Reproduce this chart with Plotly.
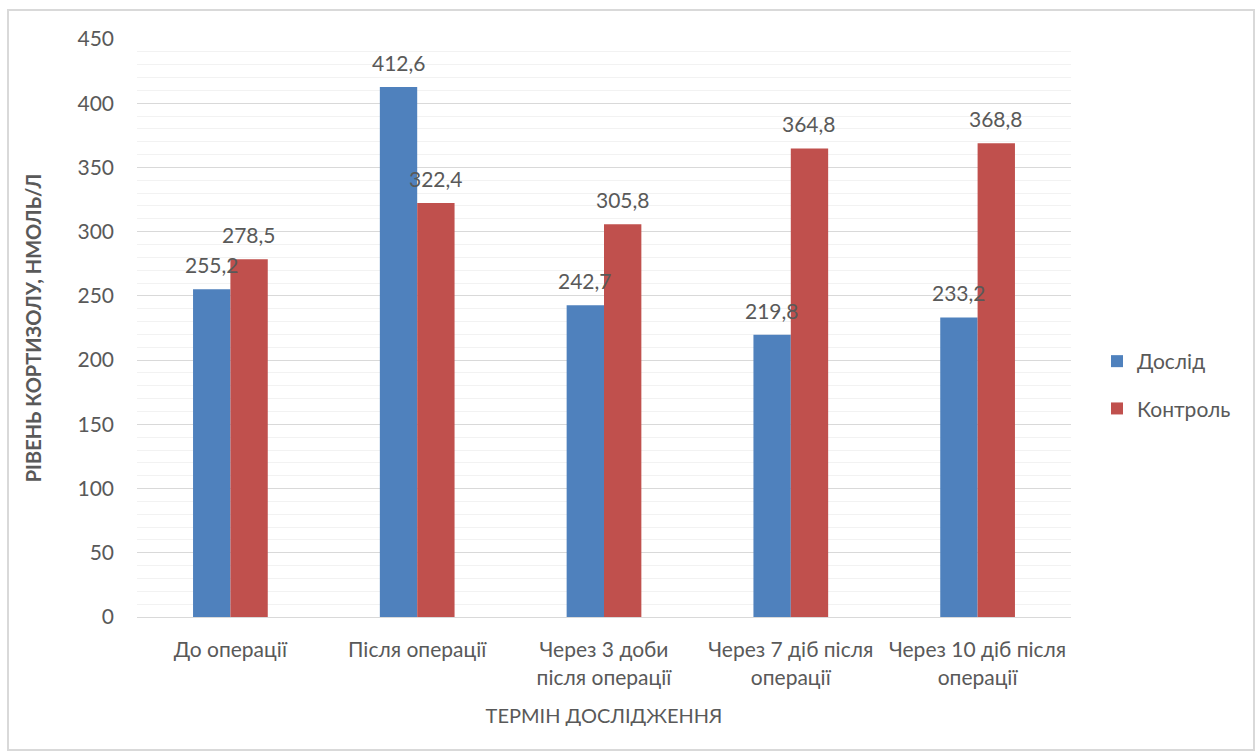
import plotly.graph_objects as go

categories = ["До операції", "Після операції", "Через 3 доби<br>після операції",
              "Через 7 діб після<br>операції", "Через 10 діб після<br>операції"]
doslid = [255.2, 412.6, 242.7, 219.8, 233.2]
kontrol = [278.5, 322.4, 305.8, 364.8, 368.8]
series_names = ["Дослід", "Контроль"]
colors = ["#4F81BD", "#C0504D"]

FONT = "Lato, 'Liberation Sans', sans-serif"
TXT = "#595959"
FS = 21

fig = go.Figure()
for k, (name, vals, col) in enumerate(zip(series_names, [doslid, kontrol], colors)):
    fig.add_trace(go.Bar(x=categories, y=vals, name=name, marker_color=col,
                         marker_line_width=0, legendgroup=f"g{k}"))

L, R, T, B = 137, 188, 39, 139
W, H = 1259, 756
pw, ph = W - L - R, H - T - B

annotations = []
offsets = [-0.1, 0.1]
for i, vals in enumerate([doslid, kontrol]):
    for j, v in enumerate(vals):
        annotations.append(dict(
            x=j + offsets[i], y=v, xref="x", yref="y",
            text=f"{v:.1f}".replace(".", ","), showarrow=False,
            yanchor="bottom", yshift=10,
            font=dict(size=FS, color=TXT, family=FONT)))

fig.update_layout(
    width=W, height=H,
    margin=dict(l=L, r=R, t=T, b=B),
    paper_bgcolor="white", plot_bgcolor="white",
    barmode="group", bargap=0.6, bargroupgap=0,
    font=dict(family=FONT, size=FS, color=TXT),
    legend=dict(x=(1097 - L) / pw, y=(617 - 385) / ph, xanchor="left", yanchor="middle",
                font=dict(size=FS, color=TXT, family=FONT), itemwidth=30,
                tracegroupgap=17),
    annotations=annotations,
    shapes=[dict(type="rect", xref="paper", yref="paper",
                 x0=(8 - L) / pw, x1=(1254 - L) / pw,
                 y0=(617 - 750) / ph, y1=(617 - 10) / ph,
                 line=dict(color="#D9D9D9", width=2), fillcolor="rgba(0,0,0,0)", layer="below")],
)
fig.update_xaxes(type="category", showline=True, linecolor="#D9D9D9", linewidth=1,
                 showgrid=False, ticks="", ticklabelstandoff=14,
                 tickfont=dict(size=FS, color=TXT, family=FONT),
                 title=dict(text="ТЕРМІН ДОСЛІДЖЕННЯ", font=dict(size=20, color=TXT, family=FONT),
                            standoff=21))
fig.update_yaxes(range=[0, 450], dtick=50, showgrid=True, gridcolor="#D9D9D9", gridwidth=1,
                 zeroline=False, showline=False, ticks="", ticklabelstandoff=22,
                 tickfont=dict(size=FS, color=TXT, family=FONT),
                 minor=dict(dtick=10, showgrid=True, gridcolor="#F2F2F2", gridwidth=1),
                 title=dict(text="<b>РІВЕНЬ КОРТИЗОЛУ, НМОЛЬ/Л</b>",
                            font=dict(size=20, color=TXT, family=FONT), standoff=30))

fig.write_html("out.html")
